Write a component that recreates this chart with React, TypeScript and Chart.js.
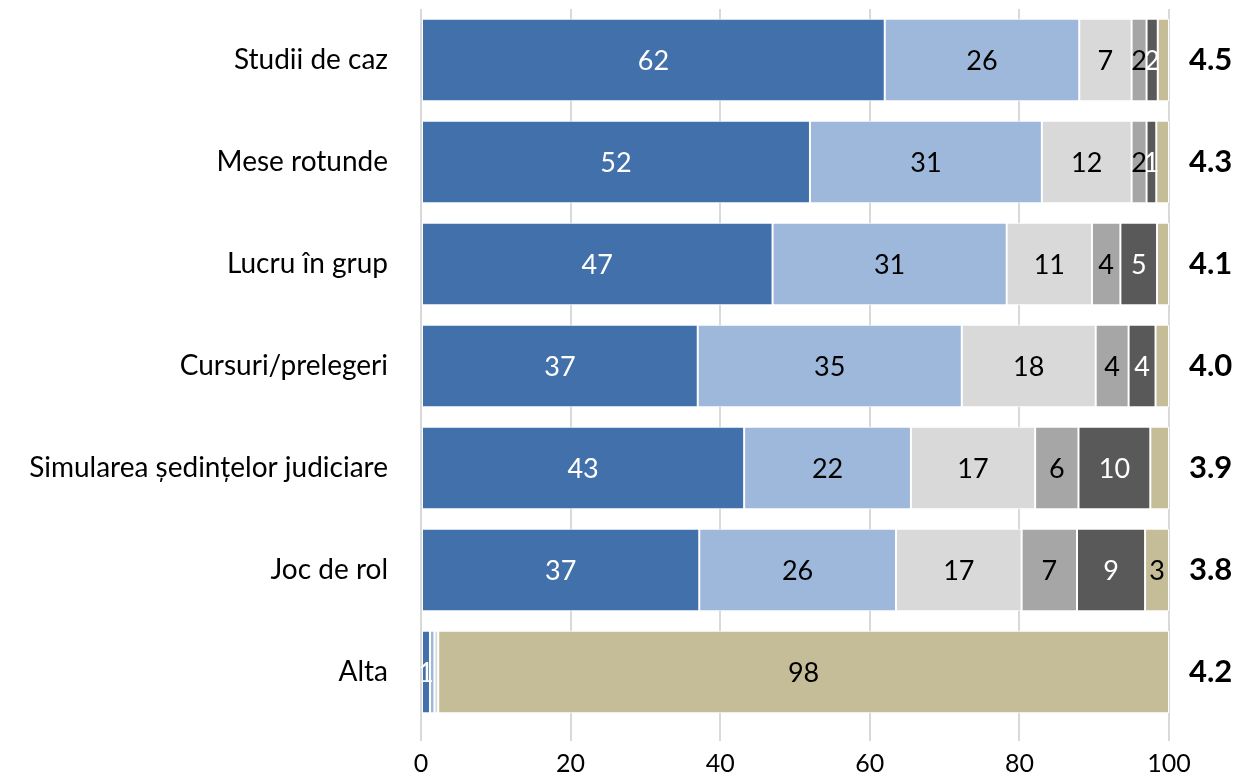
import React, { useEffect, useRef } from "react";
import { Chart, registerables } from "chart.js";

Chart.register(...registerables);

const categories = [
  "Studii de caz",
  "Mese rotunde",
  "Lucru în grup",
  "Cursuri/prelegeri",
  "Simularea ședințelor judiciare",
  "Joc de rol",
  "Alta",
];

const scores = ["4.5", "4.3", "4.1", "4.0", "3.9", "3.8", "4.2"];

const series1 = [62, 52, 47, 37, 43.2, 37.2, 1.2];
const series2 = [26, 31, 31.3, 35.3, 22.3, 26.3, 0.6];
const series3 = [7, 12, 11.4, 17.9, 16.6, 16.8, 0.5];
const series4 = [2, 2, 3.8, 4.4, 5.8, 7.4, 0];
const series5 = [1.5, 1.3, 4.9, 3.6, 9.6, 9.1, 0];
const series6 = [1.5, 1.7, 1.6, 1.8, 2.5, 3.2, 97.7];

const xTicks = [0, 20, 40, 60, 80, 100];

const seriesList = [series1, series2, series3, series4, series5, series6];
const colors = ["#4270ab", "#9db8da", "#d9d9d9", "#a6a6a6", "#595959", "#c5bd97"];
const labelColors = ["#ffffff", "#000000", "#000000", "#000000", "#ffffff", "#000000"];
const minShown = [1, 1, 1, 1, 1, 2.75];

const FONT = "Lato, 'Open Sans', sans-serif";

const labelPlugin = {
  id: "segLabels",
  afterDatasetsDraw(chart: any) {
    const ctx = chart.ctx;
    ctx.save();
    ctx.font = `27px ${FONT}`;
    ctx.textAlign = "center";
    ctx.textBaseline = "middle";
    chart.data.datasets.forEach((ds: any, di: number) => {
      const meta = chart.getDatasetMeta(di);
      meta.data.forEach((el: any, i: number) => {
        const v = ds.data[i];
        if (v < minShown[di]) return;
        const x = (el.x + el.base) / 2;
        ctx.fillStyle = labelColors[di];
        ctx.fillText(String(Math.round(v)), x, el.y + 1);
      });
    });
    ctx.restore();
  },
};

const noPad = (s: any) => {
  s.paddingTop = 0;
  s.paddingBottom = 0;
};

export default function App() {
  const ref = useRef<HTMLCanvasElement>(null);
  useEffect(() => {
    if (!ref.current) return;
    const chart = new Chart(ref.current, {
      type: "bar",
      data: {
        labels: categories,
        datasets: seriesList.map((d, i) => ({
          label: "s" + i,
          data: d,
          backgroundColor: colors[i],
          borderColor: "#ffffff",
          borderWidth: 1,
          borderSkipped: false,
          barPercentage: 0.81,
          categoryPercentage: 1,
          yAxisID: "y",
        })),
      },
      options: {
        indexAxis: "y",
        animation: false,
        responsive: true,
        maintainAspectRatio: false,
        layout: { padding: { top: 9, left: 0, right: 0, bottom: 0 } },
        plugins: {
          legend: { display: false },
          tooltip: { enabled: false },
        },
        scales: {
          x: {
            stacked: true,
            min: 0,
            max: 100,
            afterBuildTicks: (s: any) => {
              s.ticks = xTicks.map((v) => ({ value: v }));
            },
            afterFit: (s: any) => {
              s.height = 55;
              s.paddingLeft = 0;
              s.paddingRight = 0;
            },
            grid: {
              color: "#d9d9d9",
              lineWidth: 2,
              tickLength: 18,
              drawOnChartArea: true,
            },
            border: { display: false },
            ticks: {
              color: "#000000",
              font: { family: FONT, size: 25 },
              padding: 8,
            },
          },
          y: {
            stacked: true,
            position: "left",
            afterFit: (s: any) => {
              s.width = 421;
              noPad(s);
            },
            grid: { display: false },
            border: { display: false },
            ticks: {
              color: "#000000",
              font: { family: FONT, size: 28 },
              padding: 25,
            },
          },
          y2: {
            type: "category",
            position: "right",
            labels: scores,
            afterFit: (s: any) => {
              s.width = 74;
              noPad(s);
            },
            grid: { display: false },
            border: { display: false },
            ticks: {
              color: "#000000",
              font: { family: FONT, size: 31, weight: "bold" },
              padding: 12,
            },
          },
        },
      } as any,
      plugins: [labelPlugin],
    });
    return () => chart.destroy();
  }, []);
  return (
    <div style={{ position: "fixed", left: 0, top: 0, width: 1243, height: 778, background: "#fff" }}>
      <canvas ref={ref} />
    </div>
  );
}
